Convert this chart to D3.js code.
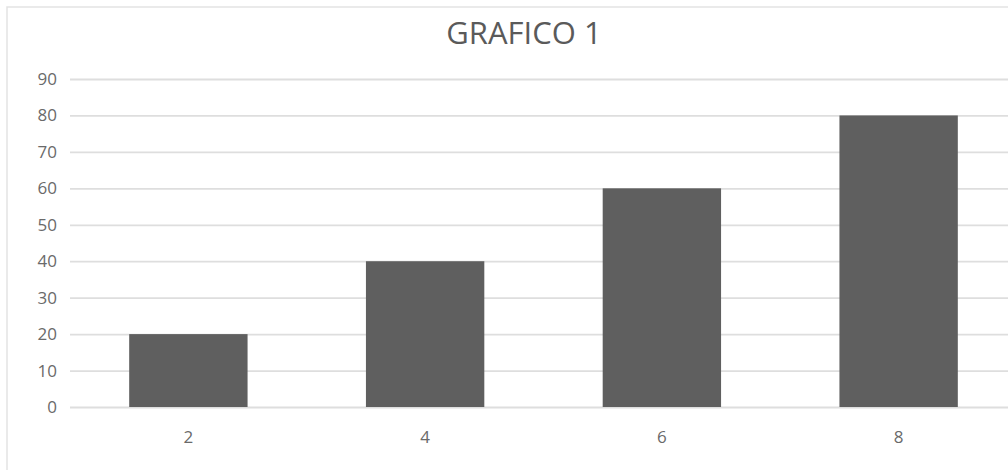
<!DOCTYPE html>
<html>
<head>
<meta charset="utf-8">
<script src="https://cdn.jsdelivr.net/npm/d3@7"></script>
<style>
  body { margin: 0; background: #fff; }
  svg { display: block; font-family: "Open Sans", sans-serif; }
</style>
</head>
<body>
<svg width="1008" height="470"></svg>
<script>
var categories = ['2', '4', '6', '8'];
var values = [20, 40, 60, 80];
var yTicks = [0, 10, 20, 30, 40, 50, 60, 70, 80, 90];
var title = 'GRAFICO 1';

var svg = d3.select('svg');
var plotLeft = 70, plotRight = 1017, plotTop = 79, plotBottom = 407;

// chart frame (only top and left are inside the picture)
svg.append('rect')
  .attr('x', 7).attr('y', 7)
  .attr('width', 1100).attr('height', 600)
  .attr('fill', 'none')
  .attr('stroke', '#e3e3e3')
  .attr('stroke-width', 1.5);

var x = d3.scaleBand().domain(categories).range([plotLeft, plotRight]).paddingInner(0.5).paddingOuter(0.25);
var y = d3.scaleLinear().domain([0, 90]).range([plotBottom, plotTop]);

// gridlines
var yAxis = d3.axisLeft(y).tickValues(yTicks).tickSize(-(plotRight - plotLeft)).tickPadding(13);
var gy = svg.append('g').attr('transform', 'translate(' + plotLeft + ',0)').call(yAxis);
gy.attr('font-family', '"Open Sans", sans-serif');
gy.select('.domain').remove();
gy.selectAll('.tick line').attr('stroke', '#dedede').attr('stroke-width', 1.8);
gy.selectAll('.tick text')
  .attr('fill', '#6a6a6a')
  .style('font-size', '17px');

var xAxis = d3.axisBottom(x).tickSize(0).tickPadding(24);
var gx = svg.append('g').attr('transform', 'translate(0,' + plotBottom + ')').call(xAxis);
gx.attr('font-family', '"Open Sans", sans-serif');
gx.select('.domain').remove();
gx.selectAll('.tick text')
  .attr('fill', '#6a6a6a')
  .style('font-size', '17px');

// bars
svg.selectAll('.bar')
  .data(values)
  .enter().append('rect')
  .attr('class', 'bar')
  .attr('x', function(d, i) { return x(categories[i]); })
  .attr('y', function(d) { return y(d); })
  .attr('width', x.bandwidth())
  .attr('height', function(d) { return y(0) - y(d); })
  .attr('fill', '#5f5f5f');

svg.append('text')
  .attr('x', 524).attr('y', 44)
  .attr('text-anchor', 'middle')
  .attr('fill', '#5a5a5a')
  .style('font-size', '31px')
  .text(title);
</script>
</body>
</html>
